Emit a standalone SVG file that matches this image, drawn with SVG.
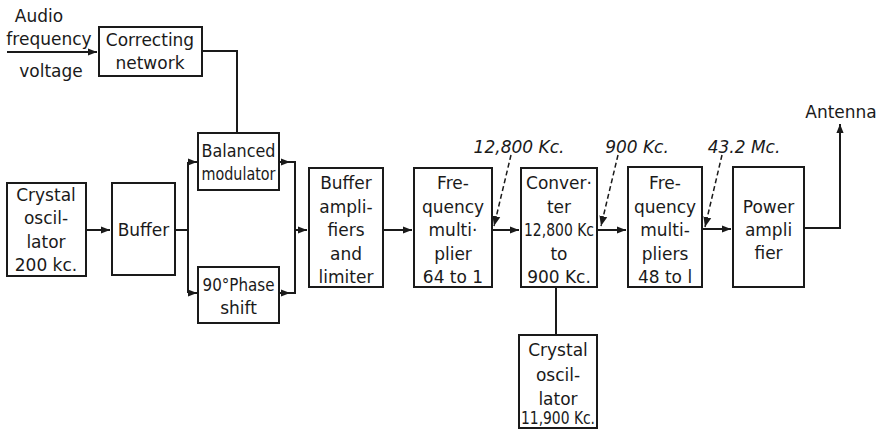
<svg xmlns="http://www.w3.org/2000/svg" width="888" height="430" viewBox="0 0 888 430">
<style>
.box{fill:#fff;stroke:#1a1a1a;stroke-width:2}
.t{font-family:"DejaVu Sans",sans-serif;font-size:17px;fill:#1a1a1a;text-anchor:middle}
.lbl{font-family:"DejaVu Sans",sans-serif;font-size:17px;fill:#1a1a1a;font-style:italic;text-anchor:middle}
.ln{fill:none;stroke:#1a1a1a;stroke-width:2}
.dash{fill:none;stroke:#1a1a1a;stroke-width:1.5;stroke-dasharray:5,3}
</style>
<defs>
<marker id="ah" viewBox="0 0 10 10" refX="10" refY="5" markerWidth="9" markerHeight="9" markerUnits="userSpaceOnUse" orient="auto">
<path d="M0,1 L10,5 L0,9 Z" fill="#1a1a1a"/>
</marker>
<marker id="ahd" viewBox="0 0 10 10" refX="10" refY="5" markerWidth="10" markerHeight="10" markerUnits="userSpaceOnUse" orient="auto">
<path d="M0,1 L10,5 L0,9 Z" fill="#1a1a1a"/>
</marker>
</defs>
<rect width="888" height="430" fill="#fff"/>

<g id="connectors">
<path class="ln" d="M7,52 H97" marker-end="url(#ah)"/>
<path class="ln" d="M202,51 H237 V133"/>
<path class="ln" d="M86,230 H110" marker-end="url(#ah)"/>
<path class="ln" d="M175,230 H188"/>
<path class="ln" d="M188,162 V293"/>
<path class="ln" d="M188,162 H197" marker-end="url(#ah)"/>
<path class="ln" d="M188,293 H197" marker-end="url(#ah)"/>
<path class="ln" d="M279,162 H295 V293 H279"/>
<path class="ln" d="M279,162 H290" marker-end="url(#ah)"/>
<path class="ln" d="M279,293 H290" marker-end="url(#ah)"/>
<path class="ln" d="M295,230 H307" marker-end="url(#ah)"/>
<path class="ln" d="M383,230 H412" marker-end="url(#ah)"/>
<path class="ln" d="M492,230 H519" marker-end="url(#ah)"/>
<path class="ln" d="M597,230 H626" marker-end="url(#ah)"/>
<path class="ln" d="M702,229 H731" marker-end="url(#ah)"/>
<path class="ln" d="M804,228 H840 V124" marker-end="url(#ah)"/>
<path class="ln" d="M556,287 V335"/>
<path class="dash" d="M511,155 L494,226" marker-end="url(#ahd)"/>
<path class="dash" d="M618,155 L601,226" marker-end="url(#ahd)"/>
<path class="dash" d="M722,155 L705,227" marker-end="url(#ahd)"/>
</g>

<g id="audio-input">
<text class="t" x="39" y="22">Audio</text>
<text class="t" x="49" y="45">frequency</text>
<text class="t" x="51" y="77">voltage</text>
</g>

<g id="correcting-network">
<rect class="box" x="99" y="27" width="103" height="49"/>
<text class="t" x="150" y="46">Correcting</text>
<text class="t" x="150" y="69">network</text>
</g>

<g id="crystal-oscillator-200">
<rect class="box" x="7" y="183" width="79" height="93"/>
<text class="t" x="46" y="201">Crystal</text>
<text class="t" x="46" y="224">oscil-</text>
<text class="t" x="46" y="248">lator</text>
<text class="t" x="46" y="271">200 kc.</text>
</g>

<g id="buffer">
<rect class="box" x="112" y="183" width="63" height="92"/>
<text class="t" x="143.5" y="236">Buffer</text>
</g>

<g id="balanced-modulator">
<rect class="box" x="198" y="133" width="81" height="57"/>
<text class="t" x="238.5" y="157" textLength="74" lengthAdjust="spacingAndGlyphs">Balanced</text>
<text class="t" x="238.5" y="180" textLength="74" lengthAdjust="spacingAndGlyphs">modulator</text>
</g>

<g id="phase-shift">
<rect class="box" x="198" y="267" width="81" height="56"/>
<text class="t" x="238.5" y="291" textLength="72" lengthAdjust="spacingAndGlyphs">90°Phase</text>
<text class="t" x="238.5" y="314">shift</text>
</g>

<g id="buffer-amplifiers">
<rect class="box" x="309" y="168" width="74" height="119"/>
<text class="t" x="346" y="189">Buffer</text>
<text class="t" x="346" y="213">ampli-</text>
<text class="t" x="346" y="236">fiers</text>
<text class="t" x="346" y="260">and</text>
<text class="t" x="346" y="283">limiter</text>
</g>

<g id="frequency-multiplier-64">
<rect class="box" x="414" y="168" width="78" height="119"/>
<text class="t" x="453" y="189">Fre-</text>
<text class="t" x="453" y="213">quency</text>
<text class="t" x="453" y="236">multi·</text>
<text class="t" x="453" y="260">plier</text>
<text class="t" x="453" y="283">64 to 1</text>
</g>

<g id="converter">
<rect class="box" x="521" y="168" width="76" height="119"/>
<text class="t" x="559" y="189">Conver·</text>
<text class="t" x="559" y="213">ter</text>
<text class="t" x="559" y="236" textLength="70" lengthAdjust="spacingAndGlyphs">12,800 Kc</text>
<text class="t" x="559" y="260">to</text>
<text class="t" x="559" y="283">900 Kc.</text>
</g>

<g id="frequency-multipliers-48">
<rect class="box" x="628" y="167" width="74" height="120"/>
<text class="t" x="665" y="189">Fre-</text>
<text class="t" x="665" y="213">quency</text>
<text class="t" x="665" y="236">multi-</text>
<text class="t" x="665" y="260">pliers</text>
<text class="t" x="665" y="283">48 to l</text>
</g>

<g id="power-amplifier">
<rect class="box" x="733" y="167" width="71" height="120"/>
<text class="t" x="768.5" y="213">Power</text>
<text class="t" x="768.5" y="236">ampli</text>
<text class="t" x="768.5" y="259">fier</text>
</g>

<g id="crystal-oscillator-11900">
<rect class="box" x="519" y="335" width="78" height="93"/>
<text class="t" x="558" y="356">Crystal</text>
<text class="t" x="558" y="381">oscil-</text>
<text class="t" x="558" y="405">lator</text>
<text class="t" x="558" y="424" textLength="74" lengthAdjust="spacingAndGlyphs">11,900 Kc.</text>
</g>

<g id="labels">
<text class="t" x="841" y="118">Antenna</text>
<text class="lbl" x="519" y="153">12,800 Kc.</text>
<text class="lbl" x="637" y="153">900 Kc.</text>
<text class="lbl" x="744" y="153">43.2 Mc.</text>
</g>
</svg>
